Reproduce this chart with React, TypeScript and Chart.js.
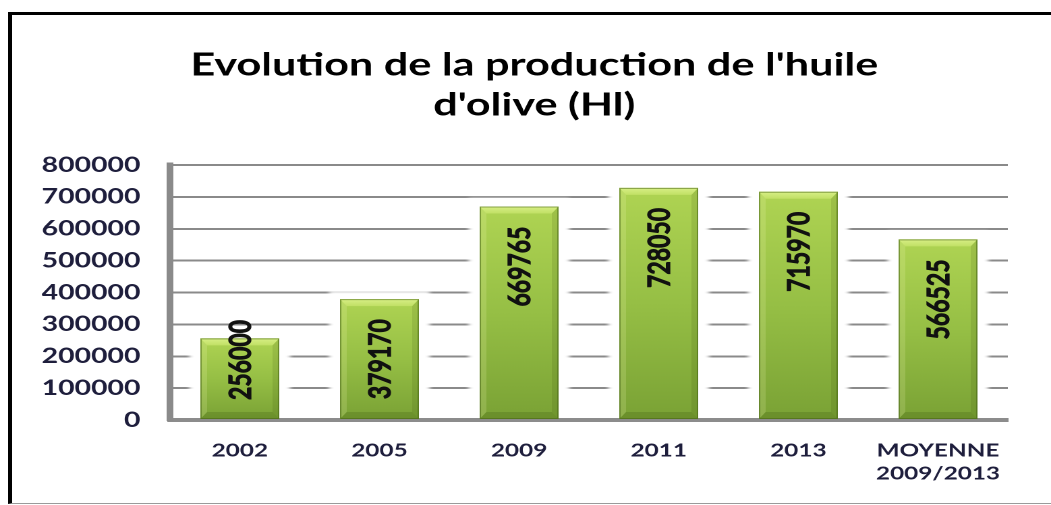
import React, { useEffect, useRef } from 'react';
import { Chart, registerables } from 'chart.js';

Chart.register(...registerables);

// ---- data ----
const titleLines = ["Evolution de la production de l'huile", "d'olive (Hl)"];
const categories: (string | string[])[] = ['2002', '2005', '2009', '2011', '2013', ['MOYENNE', '2009/2013']];
const production = [256000, 379170, 669765, 728050, 715970, 566525];
const yMin = 0;
const yMax = 800000;
const yStep = 100000;

// ---- geometry of the drawing surface ----
const W = 779;
const H = 505;
const STRETCH = 1051 / W;

const FONT = 'Lato, "Open Sans", "DejaVu Sans", sans-serif';
const TEXT_DARK = '#1e1e3c';

const barDecor = {
  id: 'barDecor',
  beforeDatasetsDraw(chart: any) {
    const ctx = chart.ctx as CanvasRenderingContext2D;
    const meta = chart.getDatasetMeta(0);
    ctx.save();
    ctx.filter = 'blur(3px)';
    ctx.fillStyle = '#ffffff';
    meta.data.forEach((bar: any) => {
      const { x, y, base, width } = bar.getProps(['x', 'y', 'base', 'width'], true);
      ctx.fillRect(x - width / 2 - 8, y - 8, width + 16, base - y + 2);
    });
    ctx.restore();
  },
  afterDatasetsDraw(chart: any) {
    const ctx = chart.ctx as CanvasRenderingContext2D;
    const meta = chart.getDatasetMeta(0);
    const values = chart.data.datasets[0].data as number[];
    meta.data.forEach((bar: any, i: number) => {
      const { x, y, base, width } = bar.getProps(['x', 'y', 'base', 'width'], true);
      const L = x - width / 2;
      const R = x + width / 2;
      const T = y;
      const B = base;
      const bx = 5;
      const by = 7;
      ctx.save();
      // face
      const g = ctx.createLinearGradient(0, T, 0, B);
      g.addColorStop(0, '#afd453');
      g.addColorStop(0.5, '#96bf45');
      g.addColorStop(1, '#7aa235');
      ctx.fillStyle = g;
      ctx.fillRect(L, T, R - L, B - T);
      // top bevel
      ctx.beginPath();
      ctx.moveTo(L, T);
      ctx.lineTo(R, T);
      ctx.lineTo(R - bx, T + by);
      ctx.lineTo(L + bx, T + by);
      ctx.closePath();
      const tg = ctx.createLinearGradient(0, T, 0, T + by);
      tg.addColorStop(0, '#d8ef86');
      tg.addColorStop(1, '#c1e065');
      ctx.fillStyle = tg;
      ctx.fill();
      // left bevel
      ctx.beginPath();
      ctx.moveTo(L, T);
      ctx.lineTo(L + bx, T + by);
      ctx.lineTo(L + bx, B - by);
      ctx.lineTo(L, B);
      ctx.closePath();
      ctx.fillStyle = 'rgba(255,255,200,0.16)';
      ctx.fill();
      // right bevel
      ctx.beginPath();
      ctx.moveTo(R, T);
      ctx.lineTo(R - bx, T + by);
      ctx.lineTo(R - bx, B - by);
      ctx.lineTo(R, B);
      ctx.closePath();
      ctx.fillStyle = 'rgba(40,60,0,0.12)';
      ctx.fill();
      // bottom bevel
      ctx.beginPath();
      ctx.moveTo(L, B);
      ctx.lineTo(L + bx, B - by);
      ctx.lineTo(R - bx, B - by);
      ctx.lineTo(R, B);
      ctx.closePath();
      ctx.fillStyle = 'rgba(40,60,0,0.18)';
      ctx.fill();
      // outline
      ctx.strokeStyle = 'rgba(70,100,20,0.55)';
      ctx.lineWidth = 1;
      ctx.strokeRect(L + 0.5, T + 0.5, R - L - 1, B - T - 1);

      // rotated value label
      const text = String(values[i]);
      ctx.font = `bold 23px ${FONT}`;
      const tw = ctx.measureText(text).width;
      const endY = Math.min(T + 20, B - 19 - tw);
      ctx.translate(x, endY);
      ctx.rotate(-Math.PI / 2);
      ctx.textAlign = 'right';
      ctx.textBaseline = 'middle';
      ctx.fillStyle = '#111111';
      ctx.strokeStyle = '#111111';
      ctx.lineWidth = 0.7;
      ctx.fillText(text, 0, 1);
      ctx.strokeText(text, 0, 1);
      ctx.restore();
    });
  },
};

export default function App() {
  const ref = useRef<HTMLCanvasElement | null>(null);

  useEffect(() => {
    if (!ref.current) return;
    Chart.defaults.font.family = FONT;
    const chart = new Chart(ref.current, {
      type: 'bar',
      data: {
        labels: categories,
        datasets: [
          {
            label: 'Production',
            data: production,
            backgroundColor: '#8fb843',
            borderWidth: 0,
            categoryPercentage: 1,
            barPercentage: 0.565,
          },
        ],
      },
      options: {
        animation: false,
        responsive: false,
        maintainAspectRatio: false,
        devicePixelRatio: 2,
        layout: { padding: { left: 13, right: 0, top: 0, bottom: 0 } },
        plugins: {
          legend: { display: false },
          tooltip: { enabled: false },
          title: {
            display: true,
            text: titleLines,
            color: '#000000',
            font: { size: 32, weight: 'bold', lineHeight: 40 / 32, family: FONT },
            padding: { top: 45, bottom: 40 },
          },
        },
        scales: {
          x: {
            z: 1,
            grid: { display: false, drawTicks: false },
            border: { display: true, color: '#8c8c8c', width: 4 },
            ticks: {
              color: TEXT_DARK,
              font: { size: 18, weight: 'bold', lineHeight: 23 / 18, family: FONT },
              padding: 19,
              maxRotation: 0,
              autoSkip: false,
            },
            afterFit: (scale: any) => {
              scale.height = 85;
            },
          },
          y: {
            min: yMin,
            max: yMax,
            grid: { color: '#8a8a8a', lineWidth: 2, drawTicks: false },
            border: { display: true, color: '#8a8a8a', width: 5 },
            ticks: {
              stepSize: yStep,
              color: TEXT_DARK,
              font: { size: 21, weight: 'bold', family: FONT },
              padding: 22,
              callback: (v: any) => String(v),
            },
            afterFit: (scale: any) => {
              scale.width = 113;
            },
          },
          yRightSpace: {
            position: 'right',
            display: true,
            grid: { display: false, drawTicks: false },
            border: { display: false },
            ticks: { display: false },
            afterFit: (scale: any) => {
              scale.width = 32;
            },
          },
        },
      },
      plugins: [barDecor],
    });
    return () => chart.destroy();
  }, []);

  return (
    <div style={{ position: 'fixed', inset: 0, overflow: 'hidden', background: '#ffffff' }}>
      <div
        style={{
          position: 'absolute',
          left: 8,
          top: 12,
          width: 1200,
          height: 492,
          boxSizing: 'border-box',
          borderLeft: '4px solid #000',
          borderTop: '3px solid #000',
          borderBottom: '1px solid #9a9a9a',
        }}
      />
      <div
        style={{
          position: 'absolute',
          left: 0,
          top: 0,
          width: W,
          height: H,
          transform: `scaleX(${STRETCH})`,
          transformOrigin: '0 0',
        }}
      >
        <canvas ref={ref} width={W} height={H} style={{ display: 'block' }} />
      </div>
    </div>
  );
}
